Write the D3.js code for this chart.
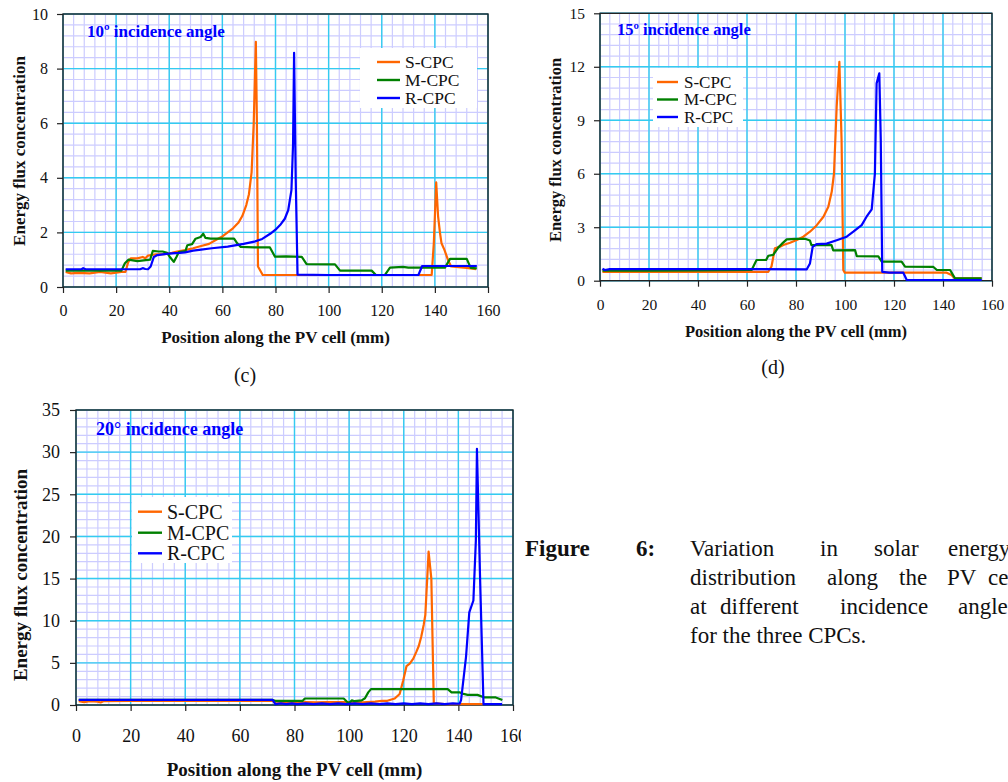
<!DOCTYPE html>
<html><head><meta charset="utf-8">
<script src="https://cdn.jsdelivr.net/npm/d3@7"></script>
<style>
html,body{margin:0;padding:0;background:#fff;}
svg{display:block;font-family:"Liberation Serif","Times New Roman",serif;}
</style></head>
<body>
<svg id="fig" width="1008" height="782"></svg>
<script>
// ---------- DATA ----------
const seriesNames = ["S-CPC", "M-CPC", "R-CPC"];
const seriesColors = ["#ff6600", "#008000", "#0000ff"];
const xTicks = [0, 20, 40, 60, 80, 100, 120, 140, 160];

// (c) 10° incidence angle
const c_yTicks = [0, 2, 4, 6, 8, 10];
const c_S = [[1,0.55],[3,0.5],[6,0.52],[10,0.5],[14,0.55],[18,0.5],[22,0.55],[23.5,0.55],[24.5,0.9],[25.5,1.05],[28,1.05],[30,1.1],[31,1.05],[32,1.15],[35,1.2],[38,1.2],[41,1.25],[43,1.3],[46,1.35],[49,1.42],[52,1.5],[55,1.58],[58,1.75],[60,1.85],[62,2.0],[64,2.15],[66,2.35],[67.5,2.6],[69,3.0],[70,3.4],[71,4.2],[71.8,6.0],[72.6,8.98],[73.0,6.0],[73.4,0.75],[75.2,0.44],[100,0.44],[138.8,0.44],[139.6,1.6],[140.5,3.83],[141.2,2.6],[141.9,2.0],[142.5,1.6],[143.6,1.36],[144.9,1.0],[146.1,0.75],[149.9,0.72],[152,0.7],[155.5,0.65]];
const c_M = [[1,0.6],[22,0.6],[23.3,0.87],[24.6,1.0],[28,0.95],[32.8,1.0],[33.8,1.32],[36,1.3],[37.5,1.3],[39.2,1.25],[40.4,1.08],[41.7,0.92],[42.7,1.1],[43.6,1.28],[46.1,1.32],[46.8,1.53],[48.6,1.57],[49.9,1.77],[51.8,1.83],[52.8,1.95],[53.6,1.8],[55.6,1.77],[64.4,1.77],[65.6,1.6],[66.9,1.47],[72,1.45],[77.9,1.45],[79.8,1.11],[84,1.12],[89.9,1.1],[91.7,0.84],[102.4,0.83],[104.3,0.6],[116.2,0.6],[117.8,0.44],[121.2,0.44],[123.1,0.71],[128,0.74],[130,0.71],[143.8,0.71],[145.7,1.03],[152,1.03],[153.5,0.7],[155.8,0.68]];
const c_R = [[1,0.65],[7,0.65],[7.6,0.69],[8.5,0.65],[29,0.65],[30,0.69],[31,0.66],[32,0.65],[33,0.75],[34.2,1.1],[35.5,1.17],[39,1.21],[42,1.24],[44,1.25],[46,1.27],[49,1.33],[52,1.37],[56,1.42],[62,1.48],[68,1.58],[72,1.66],[75,1.76],[78,1.95],[80,2.1],[82,2.3],[83.5,2.5],[84.8,2.82],[86,3.55],[86.6,5.2],[87.0,8.58],[87.6,4.0],[88.3,0.45],[100,0.44],[133.8,0.44],[135.2,0.77],[145,0.77],[155.8,0.77]];

// (d) 15° incidence angle
const d_yTicks = [0, 3, 6, 9, 12, 15];
const d_S = [[1,0.5],[10,0.5],[30,0.5],[50,0.5],[68.7,0.5],[70,0.8],[71.4,1.82],[73.5,1.91],[74.8,2.0],[77.6,2.13],[80.3,2.28],[83,2.47],[85.7,2.75],[88.4,3.1],[91.2,3.59],[93.2,4.15],[94.6,5.0],[95.5,6.0],[96.6,9.76],[97.7,12.28],[98.6,7.9],[99.3,0.6],[99.9,0.45],[120,0.45],[141.5,0.45],[143.5,0.32],[144.8,0.13],[155.8,0.13]];
const d_M = [[1,0.56],[20,0.56],[40,0.58],[61.9,0.6],[63.9,1.16],[67.8,1.16],[68.7,1.4],[70.7,1.45],[72.8,1.87],[74.1,2.05],[76.2,2.32],[80,2.35],[83.7,2.35],[85.7,2.25],[86.3,2.0],[94.5,2.0],[95.2,1.7],[104.1,1.72],[104.8,1.38],[113.6,1.36],[115,1.07],[123.1,1.07],[124.5,0.79],[136.1,0.77],[137.5,0.6],[142.9,0.6],[144.9,0.13],[155.8,0.13]];
const d_R = [[1,0.67],[2,0.6],[4,0.65],[40,0.65],[84.4,0.64],[85.7,0.97],[86.8,1.9],[88.4,2.05],[92.5,2.08],[96.6,2.27],[100.7,2.47],[103.4,2.75],[106.8,3.12],[108.8,3.59],[110.9,4.0],[112.2,6.0],[112.9,11.07],[114.0,11.63],[114.6,7.9],[115.2,0.5],[118,0.45],[123.8,0.45],[125.2,0.04],[155.8,0.04]];

// (e) 20° incidence angle
const e_yTicks = [0, 5, 10, 15, 20, 25, 30, 35];
const e_S = [[1,0.45],[3,0.35],[5,0.45],[8,0.4],[9,0.3],[10,0.45],[20,0.5],[40,0.5],[60,0.5],[72,0.5],[73,0.2],[80,0.25],[84,0.35],[88,0.3],[92,0.35],[100,0.35],[105,0.3],[109.5,0.4],[112,0.5],[114,0.5],[116.7,0.77],[118.5,1.3],[119.8,2.9],[121,4.6],[122.2,4.9],[123.5,5.5],[124.6,6.3],[125.5,7.0],[126.4,8.1],[127.3,9.5],[127.9,10.7],[129.1,18.2],[130.1,15.0],[131,0.2],[135,0.1],[149,0.1]];
const e_M = [[1,0.6],[72,0.6],[73,0.5],[83,0.5],[83.8,0.77],[98,0.77],[99.8,0.2],[101,0.55],[102,0.45],[104.6,0.55],[105.8,0.8],[107,1.5],[108,1.88],[136.1,1.88],[137.5,1.5],[140.4,1.5],[141.5,1.35],[143.4,1.2],[147,1.2],[149.5,0.9],[153.7,0.9],[156.1,0.6]];
const e_R = [[1,0.6],[72,0.6],[73,0.1],[75,0.2],[77,0.1],[79,0.2],[81,0.1],[84,0.2],[87,0.1],[90,0.2],[93,0.1],[96,0.2],[99,0.1],[102,0.2],[105,0.1],[108,0.2],[111,0.1],[114,0.2],[117,0.1],[120,0.2],[123,0.1],[126,0.2],[129,0.1],[132,0.2],[135,0.1],[138,0.2],[140.5,0.15],[141,0.6],[142.8,5.7],[144,11.0],[145.5,12.4],[146.4,19.5],[146.8,30.4],[147.9,15.6],[149.2,0.1],[156,0.1]];

// caption words (text of the figure caption)
const captionHead = [[525,"Figure"],[636,"6:"]];
const captionLines = [
  [[690,"Variation"],[820,"in"],[874,"solar"],[948,"energy"]],
  [[690,"distribution"],[827,"along"],[899,"the"],[947,"PV"],[988,"cell"]],
  [[690,"at"],[720,"different"],[840,"incidence"],[958,"angles"]],
  [[690,"for the three CPCs."]]
];

// ---------- DRAWING ----------
const svg = d3.select("#fig");

const defs = svg.append("defs");
defs.append("clipPath").attr("id","clipE").append("rect")
  .attr("x",0).attr("y",380).attr("width",521).attr("height",402);

function drawChart(cfg){
  const g = svg.append("g");
  if (cfg.clip) g.attr("clip-path", `url(#${cfg.clip})`);
  const x = d3.scaleLinear().domain([0,160]).range([cfg.left, cfg.right]);
  const y = d3.scaleLinear().domain([0, cfg.ymax]).range([cfg.bottom, cfg.top]);

  // minor grid
  const xMinor = d3.range(0, 160.001, 4);
  const yMinor = d3.range(0, cfg.ymax + 1e-6, cfg.ymax / (cfg.yTicks.length - 1) / 5);
  g.append("g").selectAll("line").data(xMinor).join("line")
    .attr("x1", d=>x(d)).attr("x2", d=>x(d)).attr("y1", cfg.top).attr("y2", cfg.bottom)
    .attr("stroke","#ccccff").attr("stroke-width",1.2);
  g.append("g").selectAll("line").data(yMinor).join("line")
    .attr("y1", d=>y(d)).attr("y2", d=>y(d)).attr("x1", cfg.left).attr("x2", cfg.right)
    .attr("stroke","#ccccff").attr("stroke-width",1.2);
  // major grid
  g.append("g").selectAll("line").data(xTicks).join("line")
    .attr("x1", d=>x(d)).attr("x2", d=>x(d)).attr("y1", cfg.top).attr("y2", cfg.bottom)
    .attr("stroke","#33ccf0").attr("stroke-width",1.4);
  g.append("g").selectAll("line").data(cfg.yTicks).join("line")
    .attr("y1", d=>y(d)).attr("y2", d=>y(d)).attr("x1", cfg.left).attr("x2", cfg.right)
    .attr("stroke","#33ccf0").attr("stroke-width",1.4);

  // axes
  const xAxis = d3.axisBottom(x).tickValues(xTicks).tickSize(6).tickPadding(cfg.xPad).tickFormat(d3.format("d"));
  const yAxis = d3.axisLeft(y).tickValues(cfg.yTicks).tickSize(6).tickPadding(cfg.yPad).tickFormat(d3.format("d"));
  const gx = g.append("g").attr("transform",`translate(0,${cfg.bottom})`).call(xAxis);
  const gy = g.append("g").attr("transform",`translate(${cfg.left},0)`).call(yAxis);
  [gx, gy].forEach(a=>{
    a.select(".domain").remove();
    a.selectAll(".tick line").attr("stroke","#222").attr("stroke-width",1.2);
    a.selectAll(".tick text").attr("fill","#111").style("font-size", cfg.tickFont+"px")
      .style("font-family",'"Liberation Serif",serif');
  });

  // frame
  g.append("rect").attr("x",cfg.left).attr("y",cfg.top)
    .attr("width",cfg.right-cfg.left).attr("height",cfg.bottom-cfg.top)
    .attr("fill","none").attr("stroke","#222").attr("stroke-width",1.4);

  // title in plot
  g.append("text").attr("x",cfg.titleX).attr("y",cfg.titleY)
    .attr("fill","#0000ff").attr("font-weight","bold").style("font-size",cfg.titleFont+"px")
    .text(cfg.title);

  // legend
  const L = cfg.legend;
  g.append("rect").attr("x",L.x0).attr("y",L.y0).attr("width",L.x1-L.x0).attr("height",L.y1-L.y0).attr("fill","#fff");
  seriesNames.forEach((n,i)=>{
    const yy = L.rows[i];
    g.append("line").attr("x1",L.lx0).attr("x2",L.lx1).attr("y1",yy).attr("y2",yy)
      .attr("stroke",seriesColors[i]).attr("stroke-width",2.4);
    g.append("text").attr("x",L.tx).attr("y",yy).attr("dy","0.35em")
      .style("font-size",L.font+"px").attr("fill","#111").text(n);
  });

  // lines
  const line = d3.line().x(d=>x(d[0])).y(d=>y(d[1]));
  cfg.data.forEach((s,i)=>{
    g.append("path").datum(s).attr("d",line).attr("fill","none")
      .attr("stroke",seriesColors[i]).attr("stroke-width",2.2).attr("stroke-linejoin","round");
  });

  // axis titles
  g.append("text").attr("x",(cfg.left+cfg.right)/2).attr("y",cfg.xTitleY)
    .attr("text-anchor","middle").attr("font-weight","bold").style("font-size",cfg.axisFont+"px")
    .attr("fill","#111").text("Position along the PV cell (mm)");
  g.append("text").attr("transform",`translate(${cfg.yTitleX},${cfg.yTitleY}) rotate(-90)`)
    .attr("text-anchor","middle").attr("dy","0.35em").attr("font-weight","bold").style("font-size",cfg.axisFont+"px")
    .attr("fill","#111").text("Energy flux concentration");

  if (cfg.sub){
    svg.append("text").attr("x",cfg.sub.x).attr("y",cfg.sub.y).attr("text-anchor","middle")
      .style("font-size","20px").attr("fill","#111").text(cfg.sub.t);
  }
}

drawChart({
  left:63, right:488, top:14, bottom:287, ymax:10, yTicks:c_yTicks,
  tickFont:16, xPad:12, yPad:9, axisFont:17,
  xTitleY:343, yTitleX:19, yTitleY:151,
  title:"10º incidence angle", titleX:87, titleY:37, titleFont:17,
  legend:{x0:360,x1:477,y0:48,y1:108,lx0:377,lx1:400,tx:405,rows:[62,80,98],font:17.5},
  data:[c_S,c_M,c_R], sub:{x:245,y:382,t:"(c)"}
});
drawChart({
  left:600, right:992, top:13.3, bottom:280.7, ymax:15, yTicks:d_yTicks,
  tickFont:15.5, xPad:12, yPad:9, axisFont:16.5,
  xTitleY:337, yTitleX:555, yTitleY:150,
  title:"15º incidence angle", titleX:617, titleY:35, titleFont:16.5,
  legend:{x0:653,x1:743,y0:68,y1:127,lx0:657,lx1:678,tx:684,rows:[82,99.5,117],font:17},
  data:[d_S,d_M,d_R], sub:{x:773,y:374,t:"(d)"}
});
drawChart({
  left:76, right:513, top:410, bottom:705, ymax:35, yTicks:e_yTicks,
  tickFont:18, xPad:18, yPad:10, axisFont:19,
  xTitleY:776, yTitleX:20, yTitleY:575,
  title:"20° incidence angle", titleX:96, titleY:435, titleFont:18,
  legend:{x0:132,x1:232,y0:497,y1:563,lx0:138,lx1:162,tx:167,rows:[511.7,532.7,553.3],font:20},
  data:[e_S,e_M,e_R], clip:"clipE"
});

// caption
const cap = svg.append("g").style("font-size","23px").attr("fill","#111");
const capY = [556, 585, 614, 643];
captionHead.forEach(w=>{
  cap.append("text").attr("x",w[0]).attr("y",capY[0]).attr("font-weight","bold").text(w[1]);
});
captionLines.forEach((ws,i)=>ws.forEach(w=>{
  cap.append("text").attr("x",w[0]).attr("y",capY[i]).text(w[1]);
}));
</script>
</body></html>
